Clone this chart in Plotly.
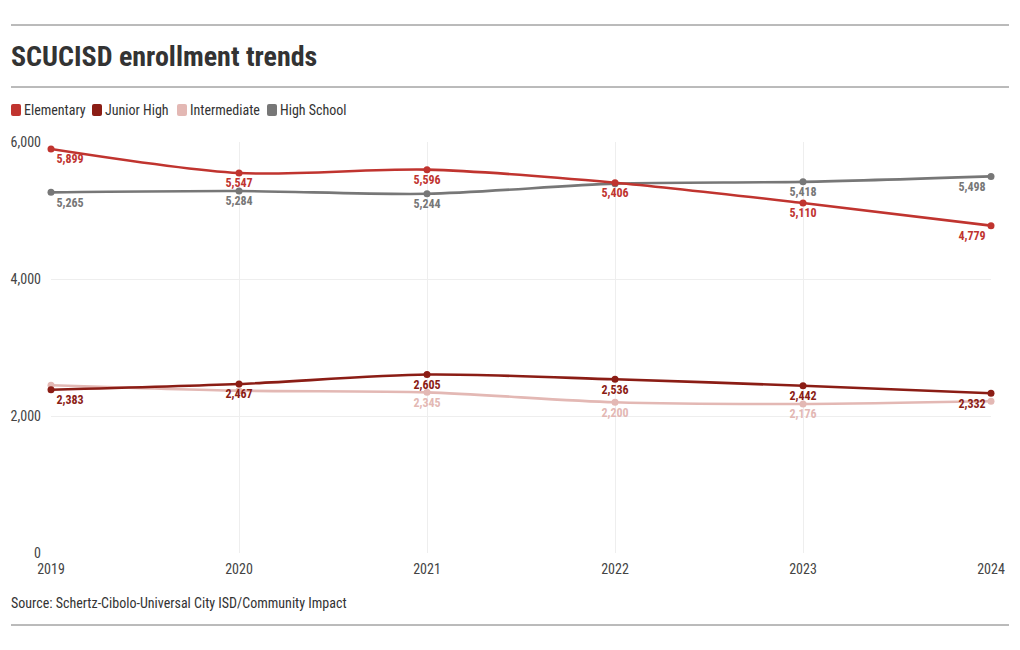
import plotly.graph_objects as go

years = [2019, 2020, 2021, 2022, 2023, 2024]
series_names = ["Elementary", "Junior High", "Intermediate", "High School"]
elementary = [5899, 5547, 5596, 5406, 5110, 4779]
junior_high = [2383, 2467, 2605, 2536, 2442, 2332]
intermediate = [2450, 2370, 2345, 2200, 2176, 2215]
high_school = [5265, 5284, 5244, 5392, 5418, 5498]
# indices whose value label is hidden in the reference (overlap)
hidden_labels = {"Elementary": [], "Junior High": [], "Intermediate": [0, 1, 5], "High School": [3]}
colors = {"Elementary": "#c0342f", "Junior High": "#8b1d15", "Intermediate": "#e3b8b4", "High School": "#777777"}
y_ticks = [0, 2000, 4000, 6000]
title = "SCUCISD enrollment trends"
source = "Source: Schertz-Cibolo-Universal City ISD/Community Impact"

FONT = "Roboto Condensed, Liberation Sans Narrow, Roboto, sans-serif"
OFF = 8  # browser default body margin
W, H = 1020 - OFF, 650 - OFF
L, R, T, B = 51, 991, 142, 553  # plot area in page pixels

def px(x):
    return (x - L) / (R - L)

def py(y):
    return (B - y) / (B - T)

values = {"Elementary": elementary, "Junior High": junior_high,
          "Intermediate": intermediate, "High School": high_school}

fig = go.Figure()
draw_order = ["Intermediate", "Junior High", "High School", "Elementary"]
for name in draw_order:
    vals = values[name]
    texts = ["" if i in hidden_labels[name] else f"{v:,}" for i, v in enumerate(vals)]
    pos = ["bottom right"] + ["bottom center"] * (len(vals) - 2) + ["bottom left"]
    fig.add_trace(go.Scatter(
        x=years, y=vals, name=name, mode="lines+markers+text",
        line=dict(color=colors[name], width=2.6, shape="spline", smoothing=0.8),
        marker=dict(color=colors[name], size=7),
        text=texts, textposition=pos,
        textfont=dict(family=FONT, size=12, color=colors[name], weight="bold"),
        cliponaxis=False, showlegend=False, hoverinfo="x+y+name",
    ))

shapes = []
annotations = []
# rules
for yy in [25, 87, 625]:
    shapes.append(dict(type="line", xref="paper", yref="paper", x0=px(11), x1=px(1009),
                       y0=py(yy), y1=py(yy), line=dict(color="#777777", width=1)))
# title
annotations.append(dict(text=f"<b>{title}</b>", xref="paper", yref="paper", x=px(9), y=py(57),
                        xanchor="left", yanchor="middle", showarrow=False,
                        font=dict(family=FONT, size=28, color="#333333")))
# source
annotations.append(dict(text=source, xref="paper", yref="paper", x=px(9), y=py(603),
                        xanchor="left", yanchor="middle", showarrow=False,
                        font=dict(family=FONT, size=14, color="#333333")))
# legend
legend_x = [11, 92, 177, 267]
for name, lx in zip(series_names, legend_x):
    shapes.append(dict(type="path", xref="paper", yref="paper", xsizemode="pixel", ysizemode="pixel",
                       xanchor=px(lx), yanchor=py(110),
                       path="M 2 -6 L 8 -6 Q 10 -6 10 -4 L 10 4 Q 10 6 8 6 L 2 6 Q 0 6 0 4 L 0 -4 Q 0 -6 2 -6 Z",
                       fillcolor=colors[name], line=dict(width=0)))
    annotations.append(dict(text=name, xref="paper", yref="paper", x=px(lx + 11), y=py(110),
                            xanchor="left", yanchor="middle", showarrow=False,
                            font=dict(family=FONT, size=14, color="#333333")))

fig.update_layout(
    width=W, height=H,
    margin=dict(l=L - OFF, r=W - (R - OFF), t=T - OFF, b=H - (B - OFF), autoexpand=False),
    paper_bgcolor="white", plot_bgcolor="white",
    font=dict(family=FONT, size=14, color="#333333"),
    shapes=shapes, annotations=annotations,
    showlegend=False,
    xaxis=dict(range=[2019, 2024], tickvals=years, ticktext=[str(y) for y in years],
               showgrid=True, gridcolor="#eeeeee", zeroline=False, showline=False, automargin=False,
               ticks="", ticklabelstandoff=6, tickfont=dict(family=FONT, size=14, color="#444444")),
    yaxis=dict(range=[0, 6000], tickvals=y_ticks, ticktext=[f"{v:,}" for v in y_ticks],
               showgrid=True, gridcolor="#eeeeee", zeroline=False, showline=False, automargin=False,
               ticks="", ticklabelstandoff=9, tickfont=dict(family=FONT, size=14, color="#444444")),
)

fig.write_html("out.html")
